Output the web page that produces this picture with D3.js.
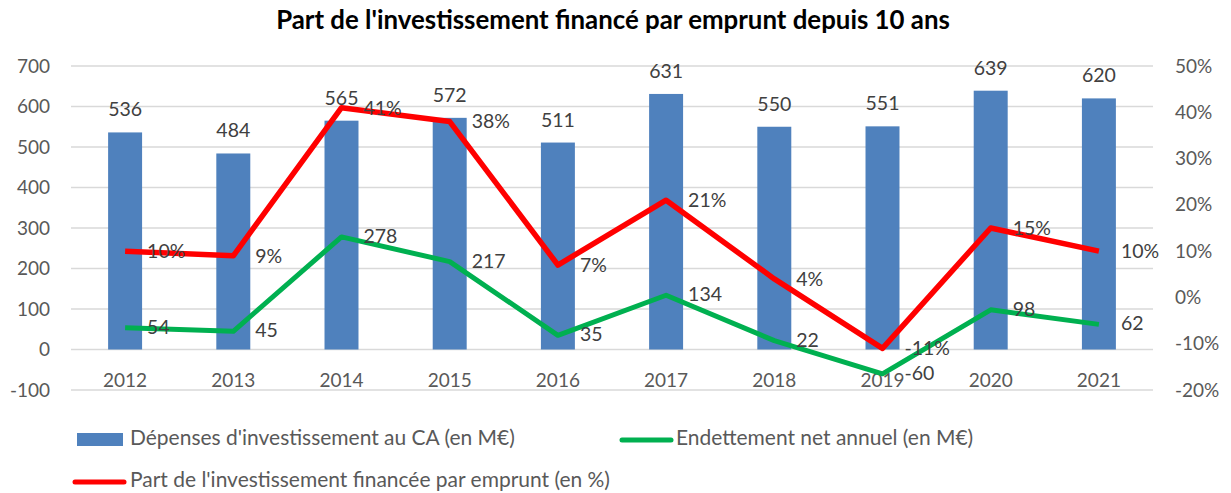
<!DOCTYPE html>
<html>
<head>
<meta charset="utf-8">
<script src="https://cdn.jsdelivr.net/npm/d3@7"></script>
<style>
  body { margin: 0; background: #fff; }
  svg text { font-family: Lato, sans-serif; }
</style>
</head>
<body>
<script>
// chart data
const years = ['2012', '2013', '2014', '2015', '2016', '2017', '2018', '2019', '2020', '2021'];
const depenses = [536, 484, 565, 572, 511, 631, 550, 551, 639, 620];
const endettement = [54, 45, 278, 217, 35, 134, 22, -60, 98, 62];
const partEmprunt = [10, 9, 41, 38, 7, 21, 4, -11, 15, 10];
const leftTicks = [-100, 0, 100, 200, 300, 400, 500, 600, 700];
const rightTicks = [-20, -10, 0, 10, 20, 30, 40, 50];

const titleText = "Part de l'investissement financé par emprunt depuis 10 ans";
const legendLabels = [
  "Dépenses d'investissement au CA (en M€)",
  'Endettement net annuel (en M€)',
  "Part de l'investissement financée par emprunt (en %)",
];

const w = 1231;
const h = 493;
const margin = { top: 66, right: 78, bottom: 103, left: 71 };

const svg = d3.select('body').append('svg')
  .attr('width', w)
  .attr('height', h);

// font size so that strings take a given width (Calibri is not installed)
const textLen = (str, weight) => {
  const t = svg.append('text').style('font-size', '100px')
    .style('font-weight', weight || 'normal').text(str);
  const len = t.node().getComputedTextLength();
  t.remove();
  return len;
};
const legendFs = 100 * 1163 / d3.sum(legendLabels, (d) => textLen(d));
const titleFs = 100 * 674 / textLen(titleText, 'bold');
const tickFs = 19;
const labelFs = 19.5;

// scales
const xScale = d3.scaleBand().domain(years)
  .range([margin.left, w - margin.right])
  .paddingInner(0.686).paddingOuter(0.343);
const yLeft = d3.scaleLinear().domain([-100, 700]).range([h - margin.bottom, margin.top]);
const yRight = d3.scaleLinear().domain([-20, 50]).range([h - margin.bottom, margin.top]);
const cx = (i) => xScale(years[i]) + xScale.bandwidth() / 2;

// title
svg.append('text')
  .attr('x', 613).attr('y', 29)
  .attr('text-anchor', 'middle')
  .style('font-size', `${titleFs}px`).style('font-weight', 'bold')
  .style('fill', '#000')
  .text(titleText);

// gridlines
svg.append('g').selectAll('line')
  .data(leftTicks)
  .enter().append('line')
  .attr('x1', margin.left).attr('x2', w - margin.right)
  .attr('y1', (d) => yLeft(d)).attr('y2', (d) => yLeft(d))
  .style('stroke', '#d9d9d9').style('stroke-width', 1.3);

// left axis
const leftAxis = d3.axisLeft(yLeft).tickValues(leftTicks).tickSize(0).tickPadding(21)
  .tickFormat((d) => `${d}`);
const gl = svg.append('g').attr('transform', `translate(${margin.left}, 0)`).call(leftAxis);
gl.select('.domain').remove();
gl.selectAll('text').style('font-size', `${tickFs}px`).style('fill', '#595959')
  .style('font-family', 'Lato, sans-serif');

// right axis
const rightAxis = d3.axisRight(yRight).tickValues(rightTicks).tickSize(0).tickPadding(22)
  .tickFormat((d) => `${d}%`);
const gr = svg.append('g').attr('transform', `translate(${w - margin.right}, 0)`).call(rightAxis);
gr.select('.domain').remove();
gr.selectAll('text').style('font-size', `${tickFs}px`).style('fill', '#595959')
  .style('font-family', 'Lato, sans-serif');

// category labels
svg.append('g').selectAll('text')
  .data(years)
  .enter().append('text')
  .attr('x', (d, i) => cx(i))
  .attr('y', yLeft(0) + 37)
  .attr('text-anchor', 'middle')
  .style('font-size', `${tickFs}px`).style('fill', '#595959')
  .text((d) => d);

// bars
svg.append('g').selectAll('rect')
  .data(depenses)
  .enter().append('rect')
  .attr('x', (d, i) => xScale(years[i]))
  .attr('y', (d) => yLeft(d))
  .attr('width', xScale.bandwidth())
  .attr('height', (d) => yLeft(0) - yLeft(d))
  .style('fill', '#4f81bd');

svg.append('g').selectAll('text')
  .data(depenses)
  .enter().append('text')
  .attr('x', (d, i) => cx(i))
  .attr('y', (d) => yLeft(d) - 16)
  .attr('text-anchor', 'middle')
  .style('font-size', `${labelFs}px`).style('fill', '#404040')
  .text((d) => d);

// lines
const greenLine = d3.line().x((d, i) => cx(i)).y((d) => yLeft(d));
const redLine = d3.line().x((d, i) => cx(i)).y((d) => yRight(d));

svg.append('path').datum(endettement)
  .attr('d', greenLine)
  .style('fill', 'none').style('stroke', '#00b050')
  .style('stroke-width', 5).style('stroke-linejoin', 'round');

svg.append('path').datum(partEmprunt)
  .attr('d', redLine)
  .style('fill', 'none').style('stroke', '#ff0000')
  .style('stroke-width', 5.5).style('stroke-linejoin', 'round');

svg.append('g').selectAll('text')
  .data(endettement)
  .enter().append('text')
  .attr('x', (d, i) => cx(i) + 22)
  .attr('y', (d) => yLeft(d) + 1)
  .attr('dominant-baseline', 'middle')
  .style('font-size', `${labelFs}px`).style('fill', '#404040')
  .text((d) => d);

svg.append('g').selectAll('text')
  .data(partEmprunt)
  .enter().append('text')
  .attr('x', (d, i) => cx(i) + 22)
  .attr('y', (d) => yRight(d) + 2)
  .attr('dominant-baseline', 'middle')
  .style('font-size', `${labelFs}px`).style('fill', '#404040')
  .text((d) => `${d}%`);

// legend
const legend = svg.append('g');
legend.append('rect')
  .attr('x', 77).attr('y', 433).attr('width', 46).attr('height', 13)
  .style('fill', '#4f81bd');
legend.append('line')
  .attr('x1', 622).attr('x2', 671).attr('y1', 440).attr('y2', 440)
  .style('stroke', '#00b050').style('stroke-width', 5).style('stroke-linecap', 'round');
legend.append('line')
  .attr('x1', 75).attr('x2', 124).attr('y1', 482).attr('y2', 482)
  .style('stroke', '#ff0000').style('stroke-width', 5).style('stroke-linecap', 'round');

const legendPos = [[130, 440], [676, 440], [130, 482]];
legend.selectAll('text.leg')
  .data(legendLabels)
  .enter().append('text')
  .attr('class', 'leg')
  .attr('x', (d, i) => legendPos[i][0])
  .attr('y', (d, i) => legendPos[i][1])
  .attr('dominant-baseline', 'middle')
  .style('font-size', `${legendFs}px`).style('fill', '#595959')
  .text((d) => d);
</script>
</body>
</html>
